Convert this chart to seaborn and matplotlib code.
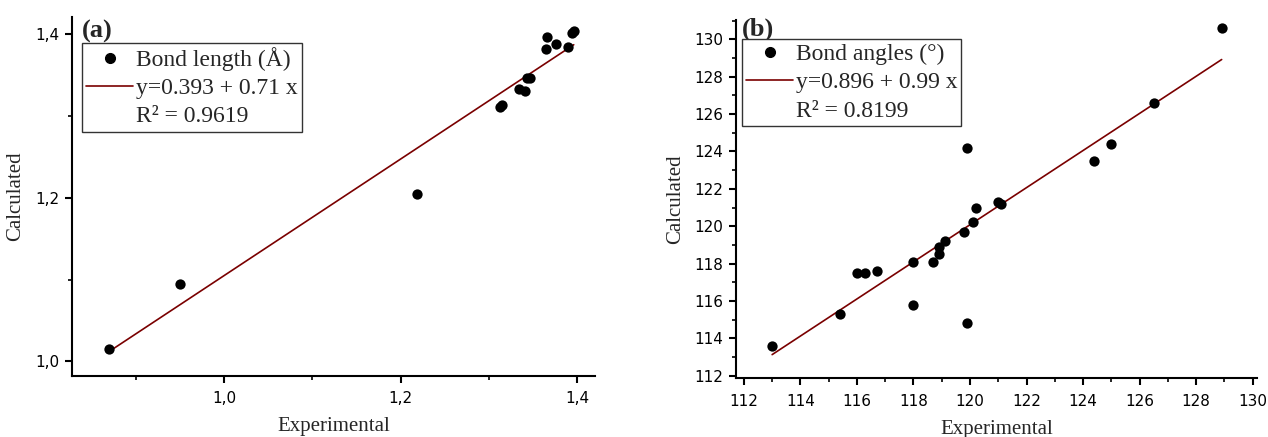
import numpy as np
import pandas as pd
import matplotlib
matplotlib.use("Agg")
import matplotlib.pyplot as plt
from matplotlib.lines import Line2D
from matplotlib.ticker import MultipleLocator, FuncFormatter
import seaborn as sns

# ---------------- data ----------------
len_exp = [0.870, 0.950, 1.218, 1.313, 1.315, 1.334, 1.341, 1.343, 1.347,
           1.365, 1.366, 1.376, 1.390, 1.394, 1.396]
len_calc = [1.015, 1.094, 1.205, 1.311, 1.313, 1.333, 1.331, 1.347, 1.346,
            1.382, 1.396, 1.388, 1.384, 1.401, 1.404]

ang_exp = [113.0, 115.4, 116.0, 116.3, 116.7, 118.0, 118.0, 118.7, 118.9,
           118.9, 119.1, 119.8, 120.1, 120.2, 121.0, 121.1, 119.9, 119.9,
           124.4, 125.0, 126.5, 128.9]
ang_calc = [113.6, 115.3, 117.5, 117.5, 117.6, 118.1, 115.8, 118.1, 118.5,
            118.9, 119.2, 119.7, 120.2, 121.0, 121.3, 121.2, 114.8, 124.2,
            123.5, 124.4, 126.6, 130.6]

legend_a = ["Bond length (Å)", "y=0.393 + 0.71 x", "R² = 0.9619"]
legend_b = ["Bond angles (°)", "y=0.896 + 0.99 x", "R² = 0.8199"]
panel_labels = ["(a)", "(b)"]

df_a = pd.DataFrame({"Experimental": len_exp, "Calculated": len_calc})
df_b = pd.DataFrame({"Experimental": ang_exp, "Calculated": ang_calc})

# ---------------- style ----------------
sns.set_style("ticks")
plt.rcParams.update({
    "font.family": ["DejaVu Sans"],
    "axes.linewidth": 1.5,
    "xtick.major.width": 1.5,
    "ytick.major.width": 1.5,
    "xtick.minor.width": 1.2,
    "ytick.minor.width": 1.2,
    "xtick.major.size": 5,
    "ytick.major.size": 5,
    "xtick.minor.size": 3,
    "ytick.minor.size": 3,
    "xtick.direction": "out",
    "ytick.direction": "out",
    "axes.edgecolor": "black",
    "xtick.color": "black",
    "ytick.color": "black",
})

LINE_COLOR = "#7a0000"
SERIF = ["Liberation Serif", "DejaVu Serif"]

fig = plt.figure(figsize=(12.68, 4.37), dpi=100)
ax_a = fig.add_axes([0.0568, 0.1396, 0.4124, 0.8214])
ax_b = fig.add_axes([0.5804, 0.1343, 0.4107, 0.8197])


def comma_fmt(v, pos):
    return f"{v:.1f}".replace(".", ",")


def draw(ax, df, labels, plabel, plabel_y, xlim, ylim, xmaj, ymaj, fmt,
         ylab_x, leg_x, leg_y):
    sns.scatterplot(data=df, x="Experimental", y="Calculated", ax=ax,
                    color="black", s=55, edgecolor="black", linewidth=0,
                    zorder=3, legend=False)
    sns.regplot(data=df, x="Experimental", y="Calculated", ax=ax,
                scatter=False, ci=None, truncate=True,
                line_kws={"color": LINE_COLOR, "lw": 1.2, "zorder": 2})
    ax.set_xlim(*xlim)
    ax.set_ylim(*ylim)
    ax.xaxis.set_major_locator(MultipleLocator(xmaj))
    ax.xaxis.set_minor_locator(MultipleLocator(xmaj / 2))
    ax.yaxis.set_major_locator(MultipleLocator(ymaj))
    ax.yaxis.set_minor_locator(MultipleLocator(ymaj / 2))
    if fmt is not None:
        ax.xaxis.set_major_formatter(FuncFormatter(fmt))
        ax.yaxis.set_major_formatter(FuncFormatter(fmt))
    ax.tick_params(axis="both", which="major", labelsize=11, pad=4)
    ax.tick_params(axis="x", which="major", pad=6)
    sns.despine(ax=ax)
    ax.set_xlabel("Experimental", fontfamily=SERIF, fontsize=15, labelpad=8)
    ax.set_ylabel("Calculated", fontfamily=SERIF, fontsize=15)
    ax.yaxis.set_label_coords(ylab_x, 0.5)

    handles = [
        Line2D([], [], ls="none", marker="o", color="black", markersize=7),
        Line2D([], [], color=LINE_COLOR, lw=1.2),
        Line2D([], [], color="none"),
    ]
    leg = ax.legend(handles, labels, loc="upper left",
                    bbox_to_anchor=(leg_x, leg_y), borderaxespad=0,
                    prop={"family": SERIF, "size": 17},
                    frameon=True, fancybox=False, edgecolor="#333333",
                    framealpha=1, handlelength=2.0, handletextpad=0.1,
                    labelspacing=0.28, borderpad=0.18)
    leg.get_frame().set_linewidth(1.0)
    ax.text(leg_x, plabel_y, plabel, transform=ax.transAxes, ha="left",
            va="baseline", fontfamily=SERIF, fontsize=19, fontweight="bold")


draw(ax_a, df_a, legend_a, panel_labels[0], 0.942, (0.828, 1.420),
     (0.982, 1.421), 0.2, 0.2, comma_fmt, -0.090, 0.019, 0.928)
draw(ax_b, df_b, legend_b, panel_labels[1], 0.958, (111.72, 130.14),
     (111.86, 131.03), 2, 2, None, -0.098, 0.011, 0.946)

fig.savefig("out.png", dpi=100, facecolor="white")
